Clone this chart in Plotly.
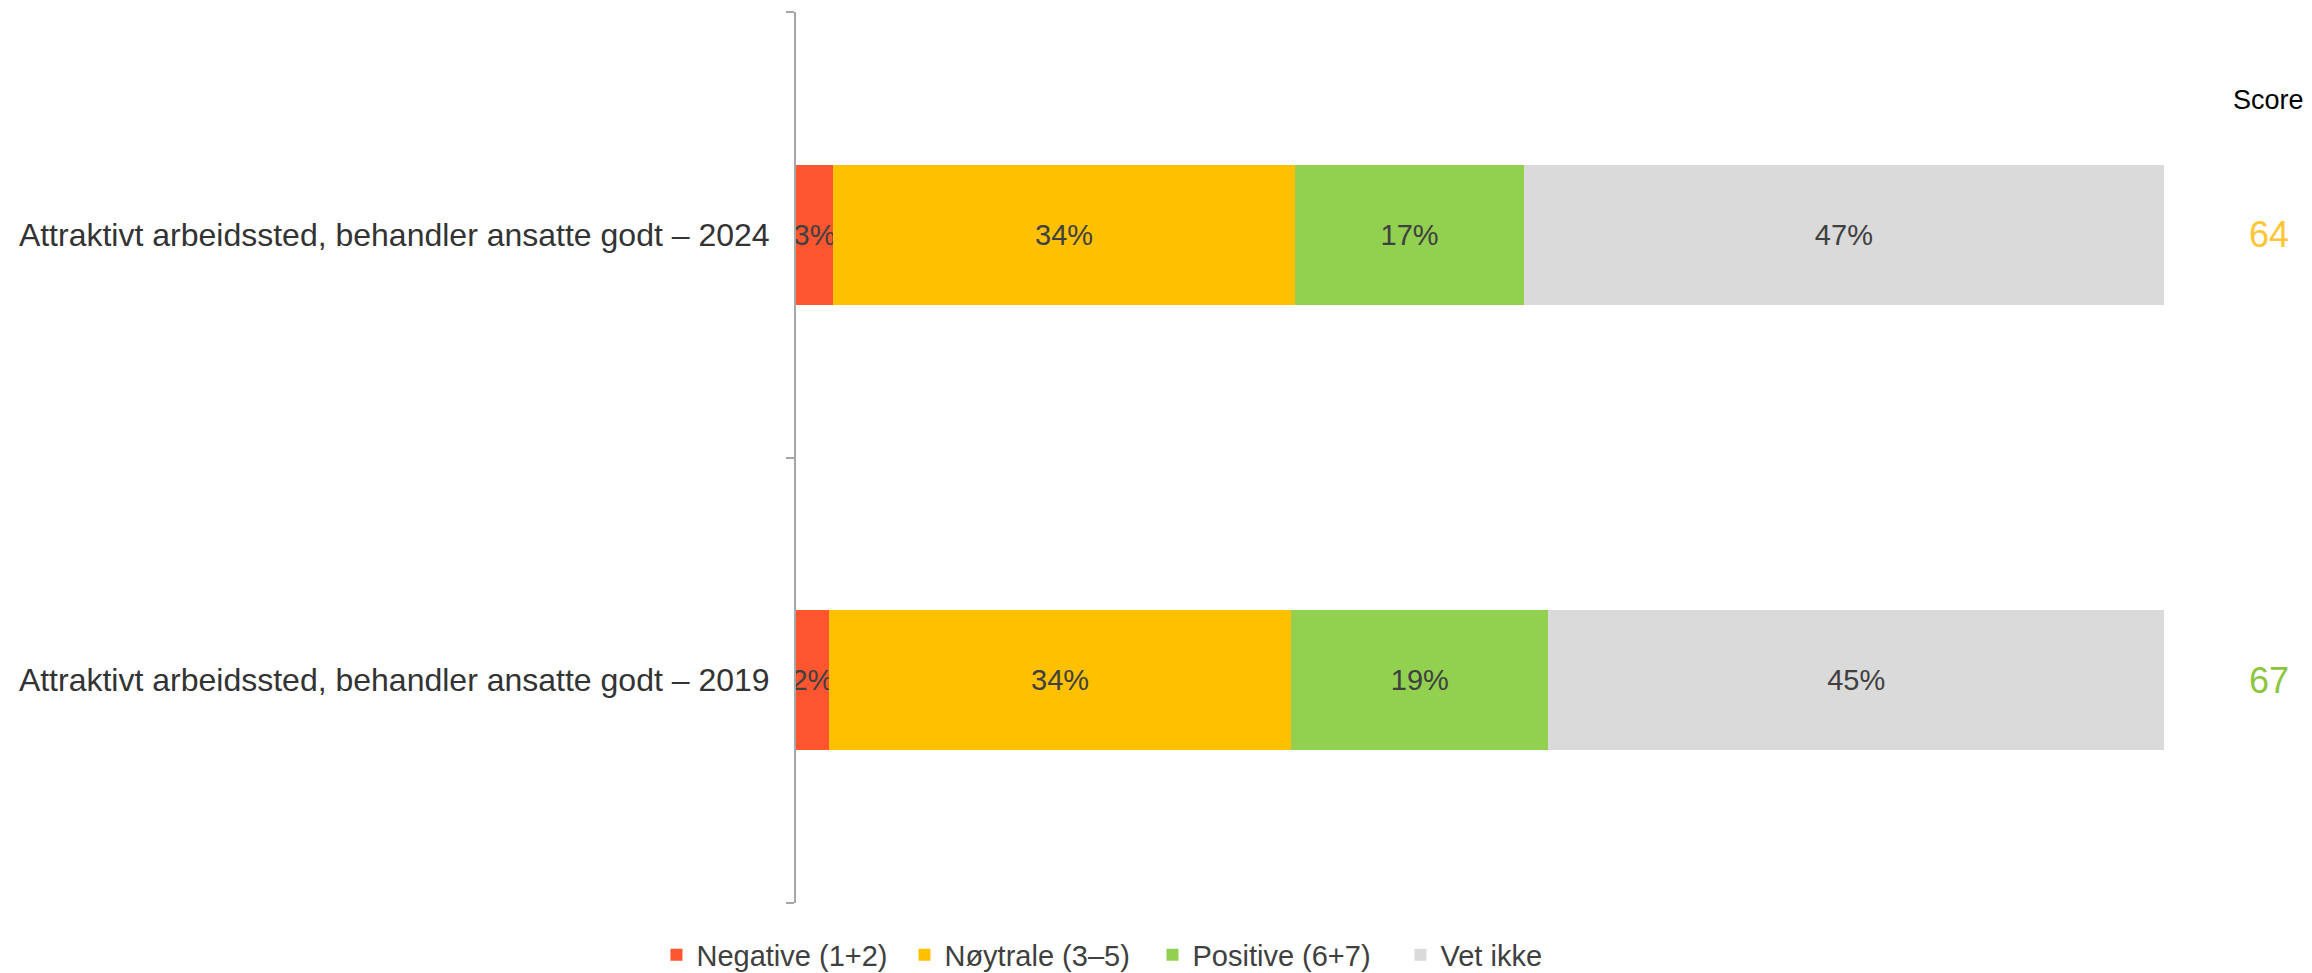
import plotly.graph_objects as go

categories = [
    "Attraktivt arbeidssted, behandler ansatte godt – 2019",
    "Attraktivt arbeidssted, behandler ansatte godt – 2024",
]
series_names = ["Negative (1+2)", "Nøytrale (3–5)", "Positive (6+7)", "Vet ikke"]
negative = [2.4, 2.7]
noytrale = [33.8, 33.8]
positive = [18.8, 16.7]
vet_ikke = [45.0, 46.8]
scores = [67, 64]

series_values = [negative, noytrale, positive, vet_ikke]
colors = ["#FF5630", "#FFC000", "#92D050", "#DADADA"]
score_colors = ["#8CC63F", "#FFC535"]

FONT = "Liberation Sans, Arial, sans-serif"

fig = go.Figure()
for name, vals, col in zip(series_names, series_values, colors):
    fig.add_trace(go.Bar(
        y=categories, x=vals, name=name, orientation="h",
        marker=dict(color=col, line=dict(width=0)),
        text=[f"{round(v)}%" for v in vals],
        textposition="inside", insidetextanchor="middle",
        textangle=0, constraintext="none",
        textfont=dict(family=FONT, size=29, color="#404040"),
        hoverinfo="skip",
    ))

annotations = [dict(
    xref="paper", yref="paper", x=1.0765, y=0.901,
    text="Score", showarrow=False, xanchor="center", yanchor="middle",
    font=dict(family=FONT, size=27, color="#000000"),
)]
for cat, sc, col in zip(categories, scores, score_colors):
    annotations.append(dict(
        xref="paper", yref="y", x=1.0765, y=cat,
        text=str(sc), showarrow=False, xanchor="center", yanchor="middle",
        font=dict(family=FONT, size=36, color=col),
    ))

fig.update_layout(
    width=2304, height=965,
    barmode="stack", bargap=0.685,
    margin=dict(l=788, r=148, t=4, b=70, autoexpand=False),
    paper_bgcolor="white", plot_bgcolor="white",
    font=dict(family=FONT, color="#333333"),
    xaxis=dict(range=[0, 100], visible=False, fixedrange=True),
    yaxis=dict(
        categoryorder="array", categoryarray=categories,
        showline=True, linecolor="#A6A6A6", linewidth=2,
        ticks="outside", tickson="boundaries", ticklen=8, tickcolor="#A6A6A6", tickwidth=2,
        tickfont=dict(family=FONT, size=32, color="#333333"),
        ticklabelstandoff=18,
        showgrid=False, zeroline=False,
        automargin=False,
    ),
    legend=dict(
        orientation="h", x=-0.102, xanchor="left",
        yref="container", y=0.0187, yanchor="middle",
        font=dict(family=FONT, size=29, color="#404040"),
        entrywidth=203,
        traceorder="normal", itemclick=False, itemdoubleclick=False,
    ),
    annotations=annotations,
    showlegend=True,
)

fig.write_html("out.html")
